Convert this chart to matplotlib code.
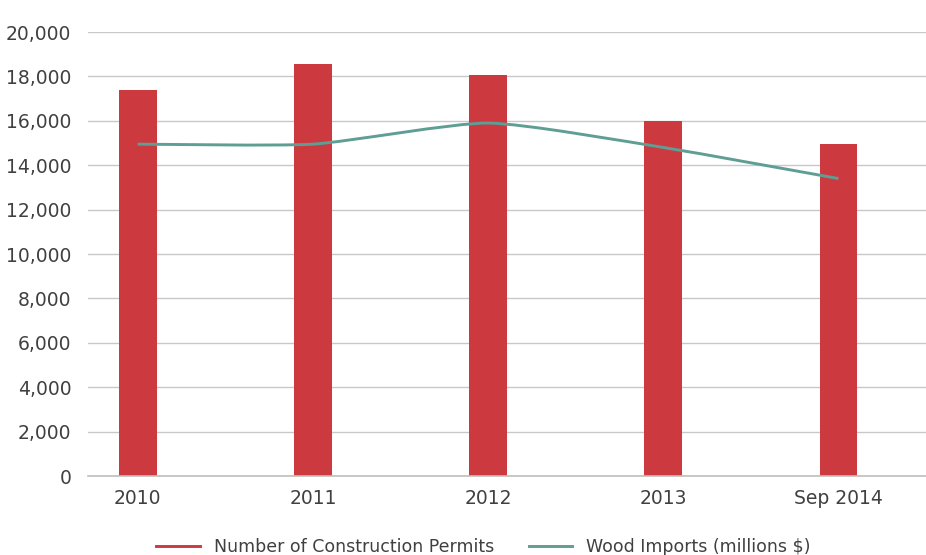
import matplotlib.pyplot as plt
import numpy as np
from matplotlib.lines import Line2D
from matplotlib.path import Path
from matplotlib.patches import PathPatch
from matplotlib.ticker import FuncFormatter

plt.rcParams["font.family"] = ["DejaVu Sans"]

# data
categories = ["2010", "2011", "2012", "2013", "Sep 2014"]
permits = [17400, 18550, 18050, 16000, 14950]
wood_imports = [14950, 14950, 15900, 14800, 13400]

bar_color = "#cc3a40"
line_color = "#5e9e94"
text_color = "#404040"

fig = plt.figure(figsize=(9.26, 5.55), dpi=100)
ax = fig.add_axes([0.095, 0.1423, 0.905, 0.80])

x = np.arange(len(categories))
ax.bar(x, permits, width=0.215, color=bar_color, zorder=2)


# smoothed line (Excel-like), Catmull-Rom converted to cubic bezier segments
def smooth_path(xs, ys, tension=0.1):
    pts = np.column_stack([xs, ys]).astype(float)
    verts = [pts[0]]
    codes = [Path.MOVETO]
    n = len(pts)
    for i in range(n - 1):
        p0 = pts[i - 1] if i > 0 else pts[i]
        p1 = pts[i]
        p2 = pts[i + 1]
        p3 = pts[i + 2] if i + 2 < n else pts[i + 1]
        c1 = p1 + (p2 - p0) * tension
        c2 = p2 - (p3 - p1) * tension
        verts += [c1, c2, p2]
        codes += [Path.CURVE4] * 3
    return Path(verts, codes)


patch = PathPatch(smooth_path(x, wood_imports), facecolor="none",
                  edgecolor=line_color, lw=2.1, zorder=3, capstyle="butt")
ax.add_patch(patch)

ax.set_xlim(-0.284, 4.5)
ax.set_ylim(0, 20000)
ax.set_yticks(np.arange(0, 20001, 2000))
ax.yaxis.set_major_formatter(FuncFormatter(lambda v, p: f"{int(v):,}"))
ax.set_xticks(x)
ax.set_xticklabels(categories)

ax.grid(axis="y", color="#c8c8c8", lw=1.0, zorder=0)
ax.set_axisbelow(True)
for s in ["top", "right", "left"]:
    ax.spines[s].set_visible(False)
ax.spines["bottom"].set_color("#bfbfbf")
ax.spines["bottom"].set_linewidth(1.2)
ax.tick_params(axis="both", length=0, labelsize=13.5, colors=text_color)
ax.tick_params(axis="y", pad=12)
ax.tick_params(axis="x", pad=9)

handles = [
    Line2D([], [], color=bar_color, lw=2.1),
    Line2D([], [], color=line_color, lw=2.1),
]
fig.legend(handles, ["Number of Construction Permits", "Wood Imports (millions $)"],
           loc="center", bbox_to_anchor=(0.522, 0.015), ncol=2, frameon=False,
           fontsize=12.5, handlelength=2.5, columnspacing=2.0,
           labelcolor=text_color)

fig.savefig("out.png", dpi=100)
